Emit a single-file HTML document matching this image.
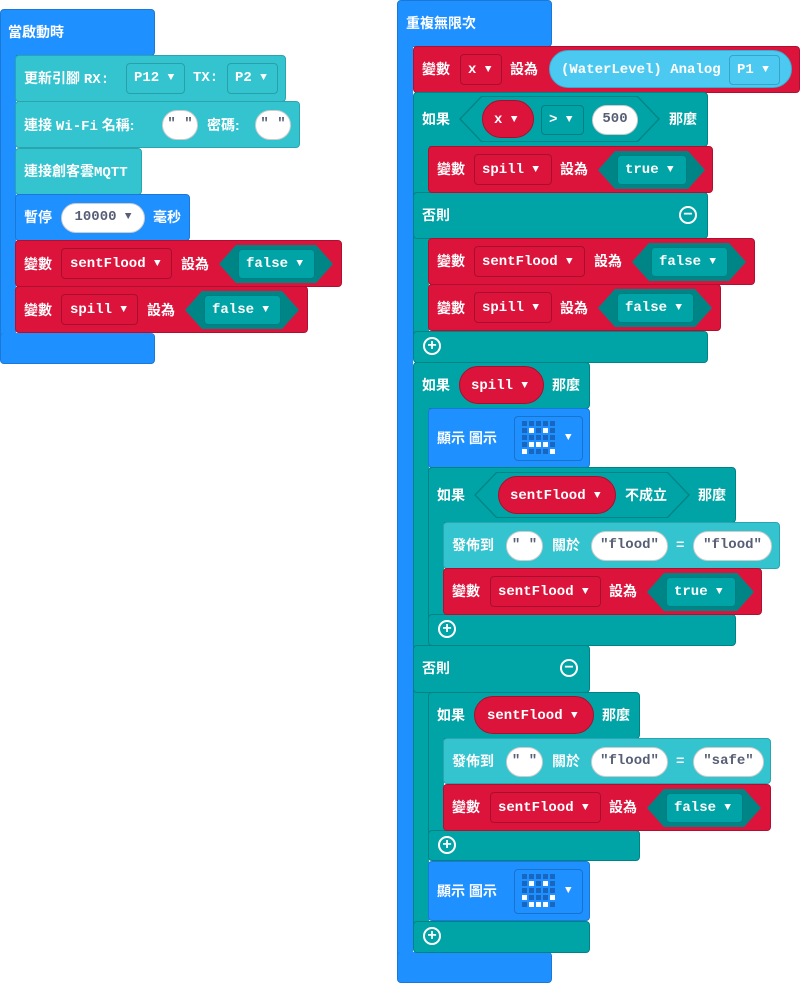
<!DOCTYPE html>
<html><head><meta charset="utf-8"><style>
body{margin:0;width:800px;height:983px;background:#fff;position:relative;overflow:hidden}
.b{position:absolute;box-sizing:border-box;border-radius:4px}
.arm{border-top:none!important;border-bottom:none!important;border-right:none!important;border-radius:0!important}
.t{position:absolute;color:#fff;font:bold 14px/20px "Liberation Sans","Noto Sans CJK TC",sans-serif;white-space:nowrap}
.m{position:absolute;color:#fff;font:bold 14px/20px "Liberation Mono",monospace;white-space:nowrap}
.blue{background:#1e90ff;border:1px solid #1a78d6}
.red{background:#dc143c;border:1px solid #b01030}
.teal{background:#00a4a6;border:1px solid #008385}
.cyan{background:#33c4d0;border:1px solid #2aa5b0}
.ri{position:absolute;box-sizing:border-box;border:1px solid #a80f2e;border-radius:4px;background:#dc143c}
.ti{position:absolute;box-sizing:border-box;border:1px solid #007f81;border-radius:4px;background:#00a4a6}
.ci{position:absolute;box-sizing:border-box;border:1px solid #27a0aa;border-radius:4px;background:#33c4d0}
.bi{position:absolute;box-sizing:border-box;border:1px solid #1873cc;border-radius:4px;background:#1e90ff}
.ov{position:absolute;box-sizing:border-box;background:#fff;border:1px solid #ccc;border-radius:16px;color:#575e75;font:bold 14px/26px "Liberation Mono",monospace;text-align:center;white-space:nowrap}
.hex{position:absolute;background:#008587}
.hex2{position:absolute;background:#00a4a6}
.pill{position:absolute;box-sizing:border-box;background:#dc143c;border:1px solid #a80f2e;border-radius:20px}
.tri{font-size:11px;vertical-align:1px}
.pl{position:absolute;width:14px;height:14px;border:2px solid #fff;border-radius:50%;color:#fff;font:bold 16px/14px "Liberation Sans",sans-serif;text-align:center}
.g{position:absolute;display:grid;grid-template-columns:repeat(5,5px);gap:2px}
.g i{width:5px;height:5px;background:#1866c0;display:block}
.g i.w{background:#fff}
</style></head><body>

<!-- LEFT STACK -->
<div class="b blue" style="left:0;top:9px;width:155px;height:47px"></div>
<div class="b blue arm" style="left:0;top:50px;width:16px;height:290px"></div>
<div class="b blue" style="left:0;top:333px;width:155px;height:31px;border-top:none"></div>
<div class="t" style="left:8px;top:22px">當啟動時</div>

<div class="b cyan" style="left:15px;top:55px;width:271px;height:47px"></div>
<div class="t" style="left:24px;top:68px">更新引腳 <span style="font-family:'Liberation Mono',monospace">RX:</span></div>
<div class="ci" style="left:126px;top:63px;width:59px;height:31px"></div>
<div class="m" style="left:134px;top:68px">P12 <span class="tri">▼</span></div>
<div class="m" style="left:193px;top:68px">TX:</div>
<div class="ci" style="left:227px;top:63px;width:51px;height:31px"></div>
<div class="m" style="left:235px;top:68px">P2 <span class="tri">▼</span></div>

<div class="b cyan" style="left:15px;top:101px;width:285px;height:47px"></div>
<div class="t" style="left:24px;top:115px">連接 <span style="font-family:'Liberation Mono',monospace">Wi-Fi</span> 名稱:</div>
<div class="ov" style="left:162px;top:110px;width:36px;height:30px">" "</div>
<div class="t" style="left:207px;top:115px">密碼:</div>
<div class="ov" style="left:255px;top:110px;width:36px;height:30px">" "</div>

<div class="b cyan" style="left:15px;top:148px;width:127px;height:47px"></div>
<div class="t" style="left:24px;top:161px">連接創客雲<span style="font-family:'Liberation Mono',monospace">MQTT</span></div>

<div class="b blue" style="left:15px;top:194px;width:175px;height:47px"></div>
<div class="t" style="left:24px;top:207px">暫停</div>
<div class="ov" style="left:61px;top:203px;width:84px;height:30px;border-radius:15px">10000 <span class="tri">▼</span></div>
<div class="t" style="left:153px;top:207px">毫秒</div>

<div class="b red" style="left:15px;top:240px;width:327px;height:47px"></div>
<div class="t" style="left:24px;top:254px">變數</div>
<div class="ri" style="left:61px;top:248px;width:111px;height:31px"></div>
<div class="m" style="left:70px;top:254px">sentFlood <span class="tri">▼</span></div>
<div class="t" style="left:181px;top:254px">設為</div>
<div class="hex" style="left:219px;top:245px;width:114px;height:38px;clip-path:polygon(17px 0,97px 0,100% 50%,97px 100%,17px 100%,0 50%)"></div>
<div class="ti" style="left:238px;top:249px;width:77px;height:30px"></div>
<div class="m" style="left:246px;top:254px">false <span class="tri">▼</span></div>

<div class="b red" style="left:15px;top:286px;width:293px;height:47px"></div>
<div class="t" style="left:24px;top:300px">變數</div>
<div class="ri" style="left:61px;top:294px;width:77px;height:31px"></div>
<div class="m" style="left:70px;top:300px">spill <span class="tri">▼</span></div>
<div class="t" style="left:147px;top:300px">設為</div>
<div class="hex" style="left:185px;top:291px;width:114px;height:38px;clip-path:polygon(17px 0,97px 0,100% 50%,97px 100%,17px 100%,0 50%)"></div>
<div class="ti" style="left:204px;top:295px;width:77px;height:30px"></div>
<div class="m" style="left:212px;top:300px">false <span class="tri">▼</span></div>

<!-- RIGHT STACK: forever -->
<div class="b blue" style="left:397px;top:0;width:155px;height:47px"></div>
<div class="b blue arm" style="left:397px;top:40px;width:16px;height:920px"></div>
<div class="b blue" style="left:397px;top:952px;width:155px;height:31px;border-top:none"></div>
<div class="t" style="left:406px;top:13px">重複無限次</div>

<!-- set x -->
<div class="b red" style="left:413px;top:46px;width:387px;height:47px"></div>
<div class="t" style="left:422px;top:59px">變數</div>
<div class="ri" style="left:460px;top:54px;width:42px;height:31px"></div>
<div class="m" style="left:468px;top:60px">x <span class="tri">▼</span></div>
<div class="t" style="left:510px;top:59px">設為</div>
<div class="b" style="left:549px;top:50px;width:243px;height:38px;background:#4cc9f0;border:1px solid #3aaad0;border-radius:19px"></div>
<div class="m" style="left:561px;top:60px">(WaterLevel) Analog</div>
<div class="b" style="left:729px;top:55px;width:51px;height:30px;background:#4cc9f0;border:1px solid #36a3c8"></div>
<div class="m" style="left:737px;top:60px">P1 <span class="tri">▼</span></div>

<!-- if x > 500 -->
<div class="b teal" style="left:413px;top:92px;width:295px;height:55px"></div>
<div class="b teal arm" style="left:413px;top:140px;width:16px;height:200px"></div>
<div class="b teal" style="left:413px;top:192px;width:295px;height:47px"></div>
<div class="b teal" style="left:413px;top:331px;width:295px;height:32px"></div>
<div class="t" style="left:422px;top:109px">如果</div>
<div class="hex" style="left:459px;top:96px;width:201px;height:46px;clip-path:polygon(22px 0,179px 0,100% 50%,179px 100%,22px 100%,0 50%)"></div>
<div class="hex2" style="left:461px;top:97px;width:197px;height:44px;clip-path:polygon(21px 0,176px 0,100% 50%,176px 100%,21px 100%,0 50%)"></div>
<div class="pill" style="left:482px;top:100px;width:52px;height:38px"></div>
<div class="m" style="left:494px;top:110px">x <span class="tri">▼</span></div>
<div class="ti" style="left:541px;top:105px;width:43px;height:30px"></div>
<div class="m" style="left:549px;top:110px">&gt; <span class="tri">▼</span></div>
<div class="ov" style="left:592px;top:105px;width:46px;height:30px;border-radius:15px">500</div>
<div class="t" style="left:669px;top:109px">那麼</div>

<div class="b red" style="left:428px;top:146px;width:285px;height:47px"></div>
<div class="t" style="left:437px;top:159px">變數</div>
<div class="ri" style="left:474px;top:154px;width:78px;height:31px"></div>
<div class="m" style="left:482px;top:160px">spill <span class="tri">▼</span></div>
<div class="t" style="left:560px;top:159px">設為</div>
<div class="hex" style="left:598px;top:151px;width:107px;height:38px;clip-path:polygon(17px 0,90px 0,100% 50%,90px 100%,17px 100%,0 50%)"></div>
<div class="ti" style="left:617px;top:155px;width:70px;height:30px"></div>
<div class="m" style="left:625px;top:160px">true <span class="tri">▼</span></div>

<div class="t" style="left:422px;top:205px">否則</div>
<div class="pl" style="left:679px;top:206px">−</div>

<div class="b red" style="left:428px;top:238px;width:327px;height:47px"></div>
<div class="t" style="left:437px;top:251px">變數</div>
<div class="ri" style="left:474px;top:246px;width:111px;height:31px"></div>
<div class="m" style="left:482px;top:252px">sentFlood <span class="tri">▼</span></div>
<div class="t" style="left:594px;top:251px">設為</div>
<div class="hex" style="left:632px;top:243px;width:114px;height:38px;clip-path:polygon(17px 0,97px 0,100% 50%,97px 100%,17px 100%,0 50%)"></div>
<div class="ti" style="left:651px;top:247px;width:77px;height:30px"></div>
<div class="m" style="left:659px;top:252px">false <span class="tri">▼</span></div>

<div class="b red" style="left:428px;top:284px;width:293px;height:47px"></div>
<div class="t" style="left:437px;top:298px">變數</div>
<div class="ri" style="left:474px;top:292px;width:78px;height:31px"></div>
<div class="m" style="left:482px;top:298px">spill <span class="tri">▼</span></div>
<div class="t" style="left:560px;top:298px">設為</div>
<div class="hex" style="left:598px;top:289px;width:114px;height:38px;clip-path:polygon(17px 0,97px 0,100% 50%,97px 100%,17px 100%,0 50%)"></div>
<div class="ti" style="left:617px;top:293px;width:77px;height:30px"></div>
<div class="m" style="left:625px;top:298px">false <span class="tri">▼</span></div>
<div class="pl" style="left:423px;top:337px">+</div>

<!-- if spill -->
<div class="b teal" style="left:413px;top:362px;width:177px;height:47px"></div>
<div class="b teal arm" style="left:413px;top:400px;width:16px;height:540px"></div>
<div class="b teal" style="left:413px;top:645px;width:177px;height:48px"></div>
<div class="b teal" style="left:413px;top:921px;width:177px;height:32px"></div>
<div class="t" style="left:422px;top:375px">如果</div>
<div class="pill" style="left:459px;top:366px;width:85px;height:38px"></div>
<div class="m" style="left:471px;top:376px">spill <span class="tri">▼</span></div>
<div class="t" style="left:552px;top:375px">那麼</div>

<div class="b blue" style="left:428px;top:408px;width:162px;height:60px"></div>
<div class="t" style="left:437px;top:428px">顯示 圖示</div>
<div class="bi" style="left:514px;top:416px;width:69px;height:45px"></div>
<div class="g" style="left:522px;top:421px"><i></i><i></i><i></i><i></i><i></i><i></i><i class="w"></i><i></i><i class="w"></i><i></i><i></i><i></i><i></i><i></i><i></i><i></i><i class="w"></i><i class="w"></i><i class="w"></i><i></i><i class="w"></i><i></i><i></i><i></i><i class="w"></i></div>
<div class="m" style="left:565px;top:428px"><span class="tri">▼</span></div>

<!-- if not sentFlood -->
<div class="b teal" style="left:428px;top:467px;width:308px;height:56px"></div>
<div class="b teal arm" style="left:428px;top:515px;width:16px;height:110px"></div>
<div class="b teal" style="left:428px;top:614px;width:308px;height:32px"></div>
<div class="t" style="left:437px;top:485px">如果</div>
<div class="hex" style="left:474px;top:472px;width:216px;height:46px;clip-path:polygon(22px 0,194px 0,100% 50%,194px 100%,22px 100%,0 50%)"></div>
<div class="hex2" style="left:476px;top:473px;width:212px;height:44px;clip-path:polygon(21px 0,191px 0,100% 50%,191px 100%,21px 100%,0 50%)"></div>
<div class="pill" style="left:498px;top:476px;width:118px;height:38px"></div>
<div class="m" style="left:510px;top:486px">sentFlood <span class="tri">▼</span></div>
<div class="t" style="left:625px;top:485px">不成立</div>
<div class="t" style="left:698px;top:485px">那麼</div>

<div class="b cyan" style="left:443px;top:522px;width:337px;height:47px"></div>
<div class="t" style="left:452px;top:535px">發佈到</div>
<div class="ov" style="left:506px;top:531px;width:37px;height:30px">" "</div>
<div class="t" style="left:552px;top:535px">關於</div>
<div class="ov" style="left:591px;top:531px;width:77px;height:30px">"flood"</div>
<div class="m" style="left:676px;top:536px">=</div>
<div class="ov" style="left:693px;top:531px;width:79px;height:30px">"flood"</div>

<div class="b red" style="left:443px;top:568px;width:319px;height:47px"></div>
<div class="t" style="left:452px;top:581px">變數</div>
<div class="ri" style="left:490px;top:576px;width:111px;height:31px"></div>
<div class="m" style="left:498px;top:582px">sentFlood <span class="tri">▼</span></div>
<div class="t" style="left:609px;top:581px">設為</div>
<div class="hex" style="left:647px;top:573px;width:107px;height:38px;clip-path:polygon(17px 0,90px 0,100% 50%,90px 100%,17px 100%,0 50%)"></div>
<div class="ti" style="left:666px;top:577px;width:70px;height:30px"></div>
<div class="m" style="left:674px;top:582px">true <span class="tri">▼</span></div>
<div class="pl" style="left:438px;top:620px">+</div>

<div class="t" style="left:422px;top:658px">否則</div>
<div class="pl" style="left:560px;top:659px">−</div>

<!-- if sentFlood -->
<div class="b teal" style="left:428px;top:692px;width:212px;height:47px"></div>
<div class="b teal arm" style="left:428px;top:730px;width:16px;height:110px"></div>
<div class="b teal" style="left:428px;top:830px;width:212px;height:31px"></div>
<div class="t" style="left:437px;top:705px">如果</div>
<div class="pill" style="left:474px;top:696px;width:120px;height:38px"></div>
<div class="m" style="left:487px;top:706px">sentFlood <span class="tri">▼</span></div>
<div class="t" style="left:602px;top:705px">那麼</div>

<div class="b cyan" style="left:443px;top:738px;width:328px;height:46px"></div>
<div class="t" style="left:452px;top:751px">發佈到</div>
<div class="ov" style="left:506px;top:747px;width:37px;height:30px">" "</div>
<div class="t" style="left:552px;top:751px">關於</div>
<div class="ov" style="left:591px;top:747px;width:77px;height:30px">"flood"</div>
<div class="m" style="left:676px;top:752px">=</div>
<div class="ov" style="left:693px;top:747px;width:71px;height:30px">"safe"</div>

<div class="b red" style="left:443px;top:784px;width:328px;height:47px"></div>
<div class="t" style="left:452px;top:797px">變數</div>
<div class="ri" style="left:490px;top:792px;width:111px;height:31px"></div>
<div class="m" style="left:498px;top:798px">sentFlood <span class="tri">▼</span></div>
<div class="t" style="left:609px;top:797px">設為</div>
<div class="hex" style="left:647px;top:789px;width:114px;height:38px;clip-path:polygon(17px 0,97px 0,100% 50%,97px 100%,17px 100%,0 50%)"></div>
<div class="ti" style="left:666px;top:793px;width:77px;height:30px"></div>
<div class="m" style="left:674px;top:798px">false <span class="tri">▼</span></div>
<div class="pl" style="left:438px;top:836px">+</div>

<div class="b blue" style="left:428px;top:861px;width:162px;height:60px"></div>
<div class="t" style="left:437px;top:881px">顯示 圖示</div>
<div class="bi" style="left:514px;top:869px;width:69px;height:45px"></div>
<div class="g" style="left:522px;top:874px"><i></i><i></i><i></i><i></i><i></i><i></i><i class="w"></i><i></i><i class="w"></i><i></i><i></i><i></i><i></i><i></i><i></i><i class="w"></i><i></i><i></i><i></i><i class="w"></i><i></i><i class="w"></i><i class="w"></i><i class="w"></i><i></i></div>
<div class="m" style="left:565px;top:881px"><span class="tri">▼</span></div>
<div class="pl" style="left:423px;top:927px">+</div>

</body></html>
